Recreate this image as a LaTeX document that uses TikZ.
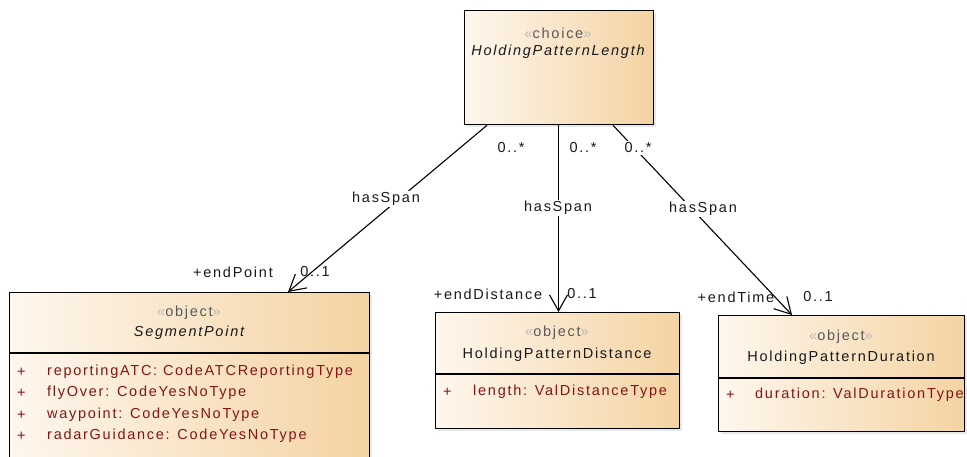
\documentclass[tikz,border=0pt]{standalone}
\usepackage{fontspec}
\setmainfont{Liberation Sans}[LetterSpace=12]
\usetikzlibrary{arrows.meta,calc,shadows}
\definecolor{boxL}{RGB}{254,247,238}
\definecolor{boxR}{RGB}{244,211,162}
\definecolor{attrc}{RGB}{135,20,20}
\tikzset{
  umlbox/.style={draw=black, line width=1.3pt, left color=boxL, right color=boxR,
    rectangle, inner sep=0pt, anchor=north west,
    drop shadow={shadow xshift=2.5pt, shadow yshift=-2.5pt, fill=gray!35}},
  txt/.style={inner sep=0pt, font=\fontsize{14.5}{16}\selectfont, text=black!90},
  attrtxt/.style={txt, anchor=west, text=attrc},
  lbl/.style={txt, fill=white, inner sep=1.5pt},
  lblnf/.style={txt},
  sepline/.style={draw=black, line width=1.3pt},
  assoc/.style={draw=black, line width=1.1pt},
  barb/.style={-{Straight Barb[length=16pt,width=18pt,line width=1.1pt]}}
}
\newcommand{\stereo}[1]{{\color{gray!55}\guillemotleft}{\color{black!65}#1}{\color{gray!55}\guillemotright}}
\begin{document}
\begin{tikzpicture}[x=1pt,y=-1pt]
\useasboundingbox[fill=white] (0,0) rectangle (967,457);
% boxes
\node[umlbox, minimum width=189pt, minimum height=114pt] (hpl) at (464,10) {};
\node[umlbox, minimum width=360pt, minimum height=200pt] (sp) at (9,292) {};
\node[umlbox, minimum width=244pt, minimum height=116pt] (hpd) at (435,312) {};
\node[umlbox, minimum width=246pt, minimum height=116pt] (hpdur) at (718,315) {};
% separators
\draw[sepline] ($(sp.north west)+(0,61)$) -- ($(sp.north east)+(0,61)$);
\draw[sepline] ($(hpd.north west)+(0,62)$) -- ($(hpd.north east)+(0,62)$);
\draw[sepline] ($(hpdur.north west)+(0,63)$) -- ($(hpdur.north east)+(0,63)$);
% top box texts
\node[txt] (hpls) at (558,33) {\stereo{choice}};
\node[txt, font=\fontsize{14.5}{16}\selectfont\itshape] (hpln) at (558,52) {HoldingPatternLength};
% SegmentPoint
\node[txt] (sps) at (189,313) {\stereo{object}};
\node[txt, font=\fontsize{14.5}{16}\selectfont\itshape] (spn) at (189,333) {SegmentPoint};
\node[attrtxt] (spp1) at (17,372) {+};
\node[attrtxt] (spa1) at (47,372) {reportingATC: CodeATCReportingType};
\node[attrtxt] (spp2) at (17,393) {+};
\node[attrtxt] (spa2) at (47,393) {flyOver: CodeYesNoType};
\node[attrtxt] (spp3) at (17,415) {+};
\node[attrtxt] (spa3) at (47,415) {waypoint: CodeYesNoType};
\node[attrtxt] (spp4) at (17,436) {+};
\node[attrtxt] (spa4) at (47,436) {radarGuidance: CodeYesNoType};
% HoldingPatternDistance
\node[txt] (hpds) at (557,333) {\stereo{object}};
\node[txt] (hpdn) at (557,355) {HoldingPatternDistance};
\node[attrtxt] (hpdp) at (443,392) {+};
\node[attrtxt] (hpda) at (473,392) {length: ValDistanceType};
% HoldingPatternDuration
\node[txt] (hpdus) at (841,337) {\stereo{object}};
\node[txt] (hpdun) at (841,358) {HoldingPatternDuration};
\node[attrtxt] (hpdup) at (726,395) {+};
\node[attrtxt] (hpdua) at (755,395) {duration: ValDurationType};
% connectors
\draw[assoc, barb] ([xshift=23pt]hpl.south west) -- ([xshift=279pt]sp.north west);
\draw[assoc, barb] ([xshift=94.5pt]hpl.south west) -- ([xshift=123.5pt]hpd.north west);
\draw[assoc, barb] ([xshift=149pt]hpl.south west) -- ([xshift=74pt]hpdur.north west);
% labels
\node[lbl] (m1) at (511,148) {0..*};
\node[lbl] (m2) at (583,148) {0..*};
\node[lbl] (m3) at (638,148) {0..*};
\node[lbl] (h1) at (386,199) {hasSpan};
\node[lbl] (h2) at (558,208) {hasSpan};
\node[lbl] (h3) at (703,209) {hasSpan};
\node[lblnf] (r1) at (233,272) {+endPoint};
\node[lblnf] (c1) at (315,272) {0..1};
\node[lblnf] (r2) at (488,294) {+endDistance};
\node[lblnf] (c2) at (582,294) {0..1};
\node[lblnf] (r3) at (736,297) {+endTime};
\node[lblnf] (c3) at (818,297) {0..1};
\end{tikzpicture}
\end{document}
